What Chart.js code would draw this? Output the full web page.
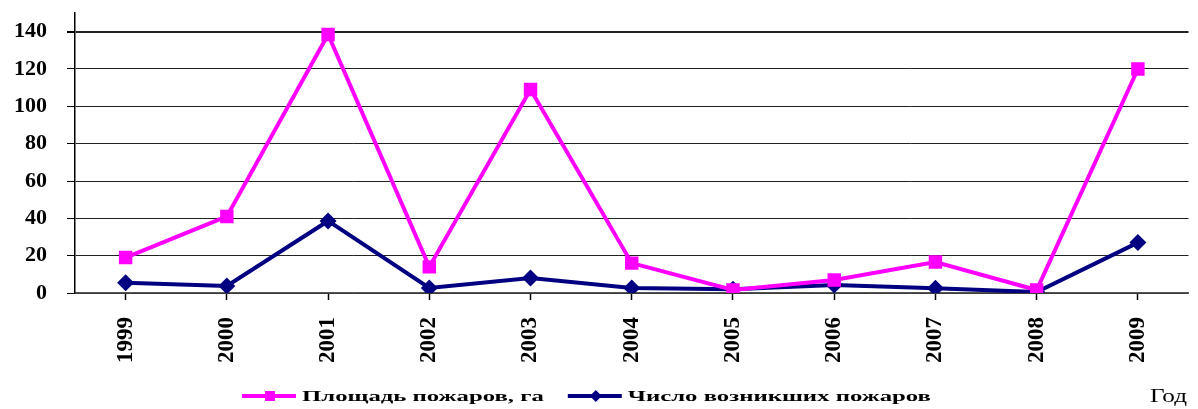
<!DOCTYPE html>
<html>
<head>
<meta charset="utf-8">
<script src="https://cdn.jsdelivr.net/npm/chart.js@4.4.0/dist/chart.umd.min.js"></script>
<style>
  html, body { margin: 0; padding: 0; background: #fff; }
  #wrap { width: 1198px; height: 409px; }
</style>
</head>
<body>
<div id="wrap"><canvas id="myChart" width="1198" height="409"></canvas></div>
<script>
const years = ['1999', '2000', '2001', '2002', '2003', '2004', '2005', '2006', '2007', '2008', '2009'];
const areaValues = [19, 41, 138.5, 14, 109, 16, 1.6, 7, 16.6, 1.6, 120];
const fireValues = [5.5, 3.8, 38.6, 2.7, 8, 2.7, 2, 4.3, 2.6, 0.5, 27];
const yTicks = [0, 20, 40, 60, 80, 100, 120, 140];
const xTitle = 'Год';

// legend drawn by hand: line + marker + stretched bold serif text
const legendPlugin = {
  id: 'oldLegend',
  afterDraw(chart) {
    const ctx = chart.ctx;
    const y = 396;
    let x = 242;
    const stretch = 1.65;
    ctx.save();
    chart.data.datasets.forEach((ds) => {
      ctx.strokeStyle = ds.borderColor;
      ctx.lineWidth = 4;
      ctx.beginPath();
      ctx.moveTo(x, y);
      ctx.lineTo(x + 54, y);
      ctx.stroke();
      ctx.fillStyle = ds.borderColor;
      const cx = x + 28;
      if (ds.pointStyle === 'rect') {
        ctx.fillRect(cx - 5, y - 5, 10, 10);
      } else {
        ctx.beginPath();
        ctx.moveTo(cx - 6, y);
        ctx.lineTo(cx, y - 6);
        ctx.lineTo(cx + 6, y);
        ctx.lineTo(cx, y + 6);
        ctx.closePath();
        ctx.fill();
      }
      x += 60;
      ctx.font = 'bold 15px "Liberation Serif"';
      ctx.fillStyle = '#000';
      ctx.textBaseline = 'middle';
      ctx.textAlign = 'left';
      const w = ctx.measureText(ds.label).width * stretch;
      ctx.save();
      ctx.translate(x, y + 1);
      ctx.scale(stretch, 1);
      ctx.fillText(ds.label, 0, 0);
      ctx.restore();
      x += w + 24;
    });
    ctx.font = '18px "Liberation Serif"';
    ctx.fillStyle = '#000';
    ctx.textBaseline = 'middle';
    ctx.save();
    ctx.translate(1150, 397);
    ctx.scale(1.4, 1);
    ctx.fillText(xTitle, 0, 0);
    ctx.restore();
    ctx.restore();
  }
};

const data = {
  labels: years,
  datasets: [{
    label: 'Площадь пожаров, га',
    data: areaValues,
    borderColor: '#FF00FF',
    backgroundColor: '#FF00FF',
    borderWidth: 4,
    pointStyle: 'rect',
    pointRadius: 9.5,
    pointBorderWidth: 0,
    tension: 0
  }, {
    label: 'Число возникших пожаров',
    data: fireValues,
    borderColor: '#000080',
    backgroundColor: '#000080',
    borderWidth: 4,
    pointStyle: 'rectRot',
    pointRadius: 8.5,
    pointBorderWidth: 0,
    tension: 0
  }]
};

const config = {
  type: 'line',
  data: data,
  options: {
    responsive: false,
    animation: false,
    layout: { padding: { top: 13, right: 0, left: -6, bottom: 0 } },
    plugins: {
      legend: { display: false },
      tooltip: { enabled: false }
    },
    scales: {
      x: {
        offset: true,
        grid: {
          display: true,
          offset: false,
          drawOnChartArea: false,
          drawTicks: true,
          tickLength: 7,
          tickColor: '#000',
          tickWidth: 1.5
        },
        border: { display: true, color: '#555', width: 1.5 },
        ticks: {
          minRotation: 90,
          maxRotation: 90,
          padding: 17,
          color: '#000',
          font: { family: '"Liberation Serif"', size: 23, weight: 'bold' }
        },
        afterFit(scale) {
          scale.height = 116;
          scale.paddingLeft = 0;
          scale.paddingRight = 0;
        }
      },
      y: {
        min: 0,
        max: 150,
        afterBuildTicks(scale) {
          scale.ticks = yTicks.map((v) => ({ value: v }));
        },
        grid: {
          color: '#222',
          lineWidth: (c) => (c.tick && c.tick.value === 140 ? 2 : 1),
          drawTicks: true,
          tickLength: 8,
          tickColor: '#000'
        },
        border: { display: true, color: '#000', width: 1.5 },
        ticks: {
          padding: 20,
          color: '#000',
          font: { family: '"Liberation Serif"', size: 22, weight: 'bold' }
        },
        afterFit(scale) {
          scale.paddingTop = 0;
          scale.paddingBottom = 0;
        }
      }
    }
  },
  plugins: [legendPlugin]
};

const myChart = new Chart(document.getElementById('myChart'), config);
</script>
</body>
</html>
